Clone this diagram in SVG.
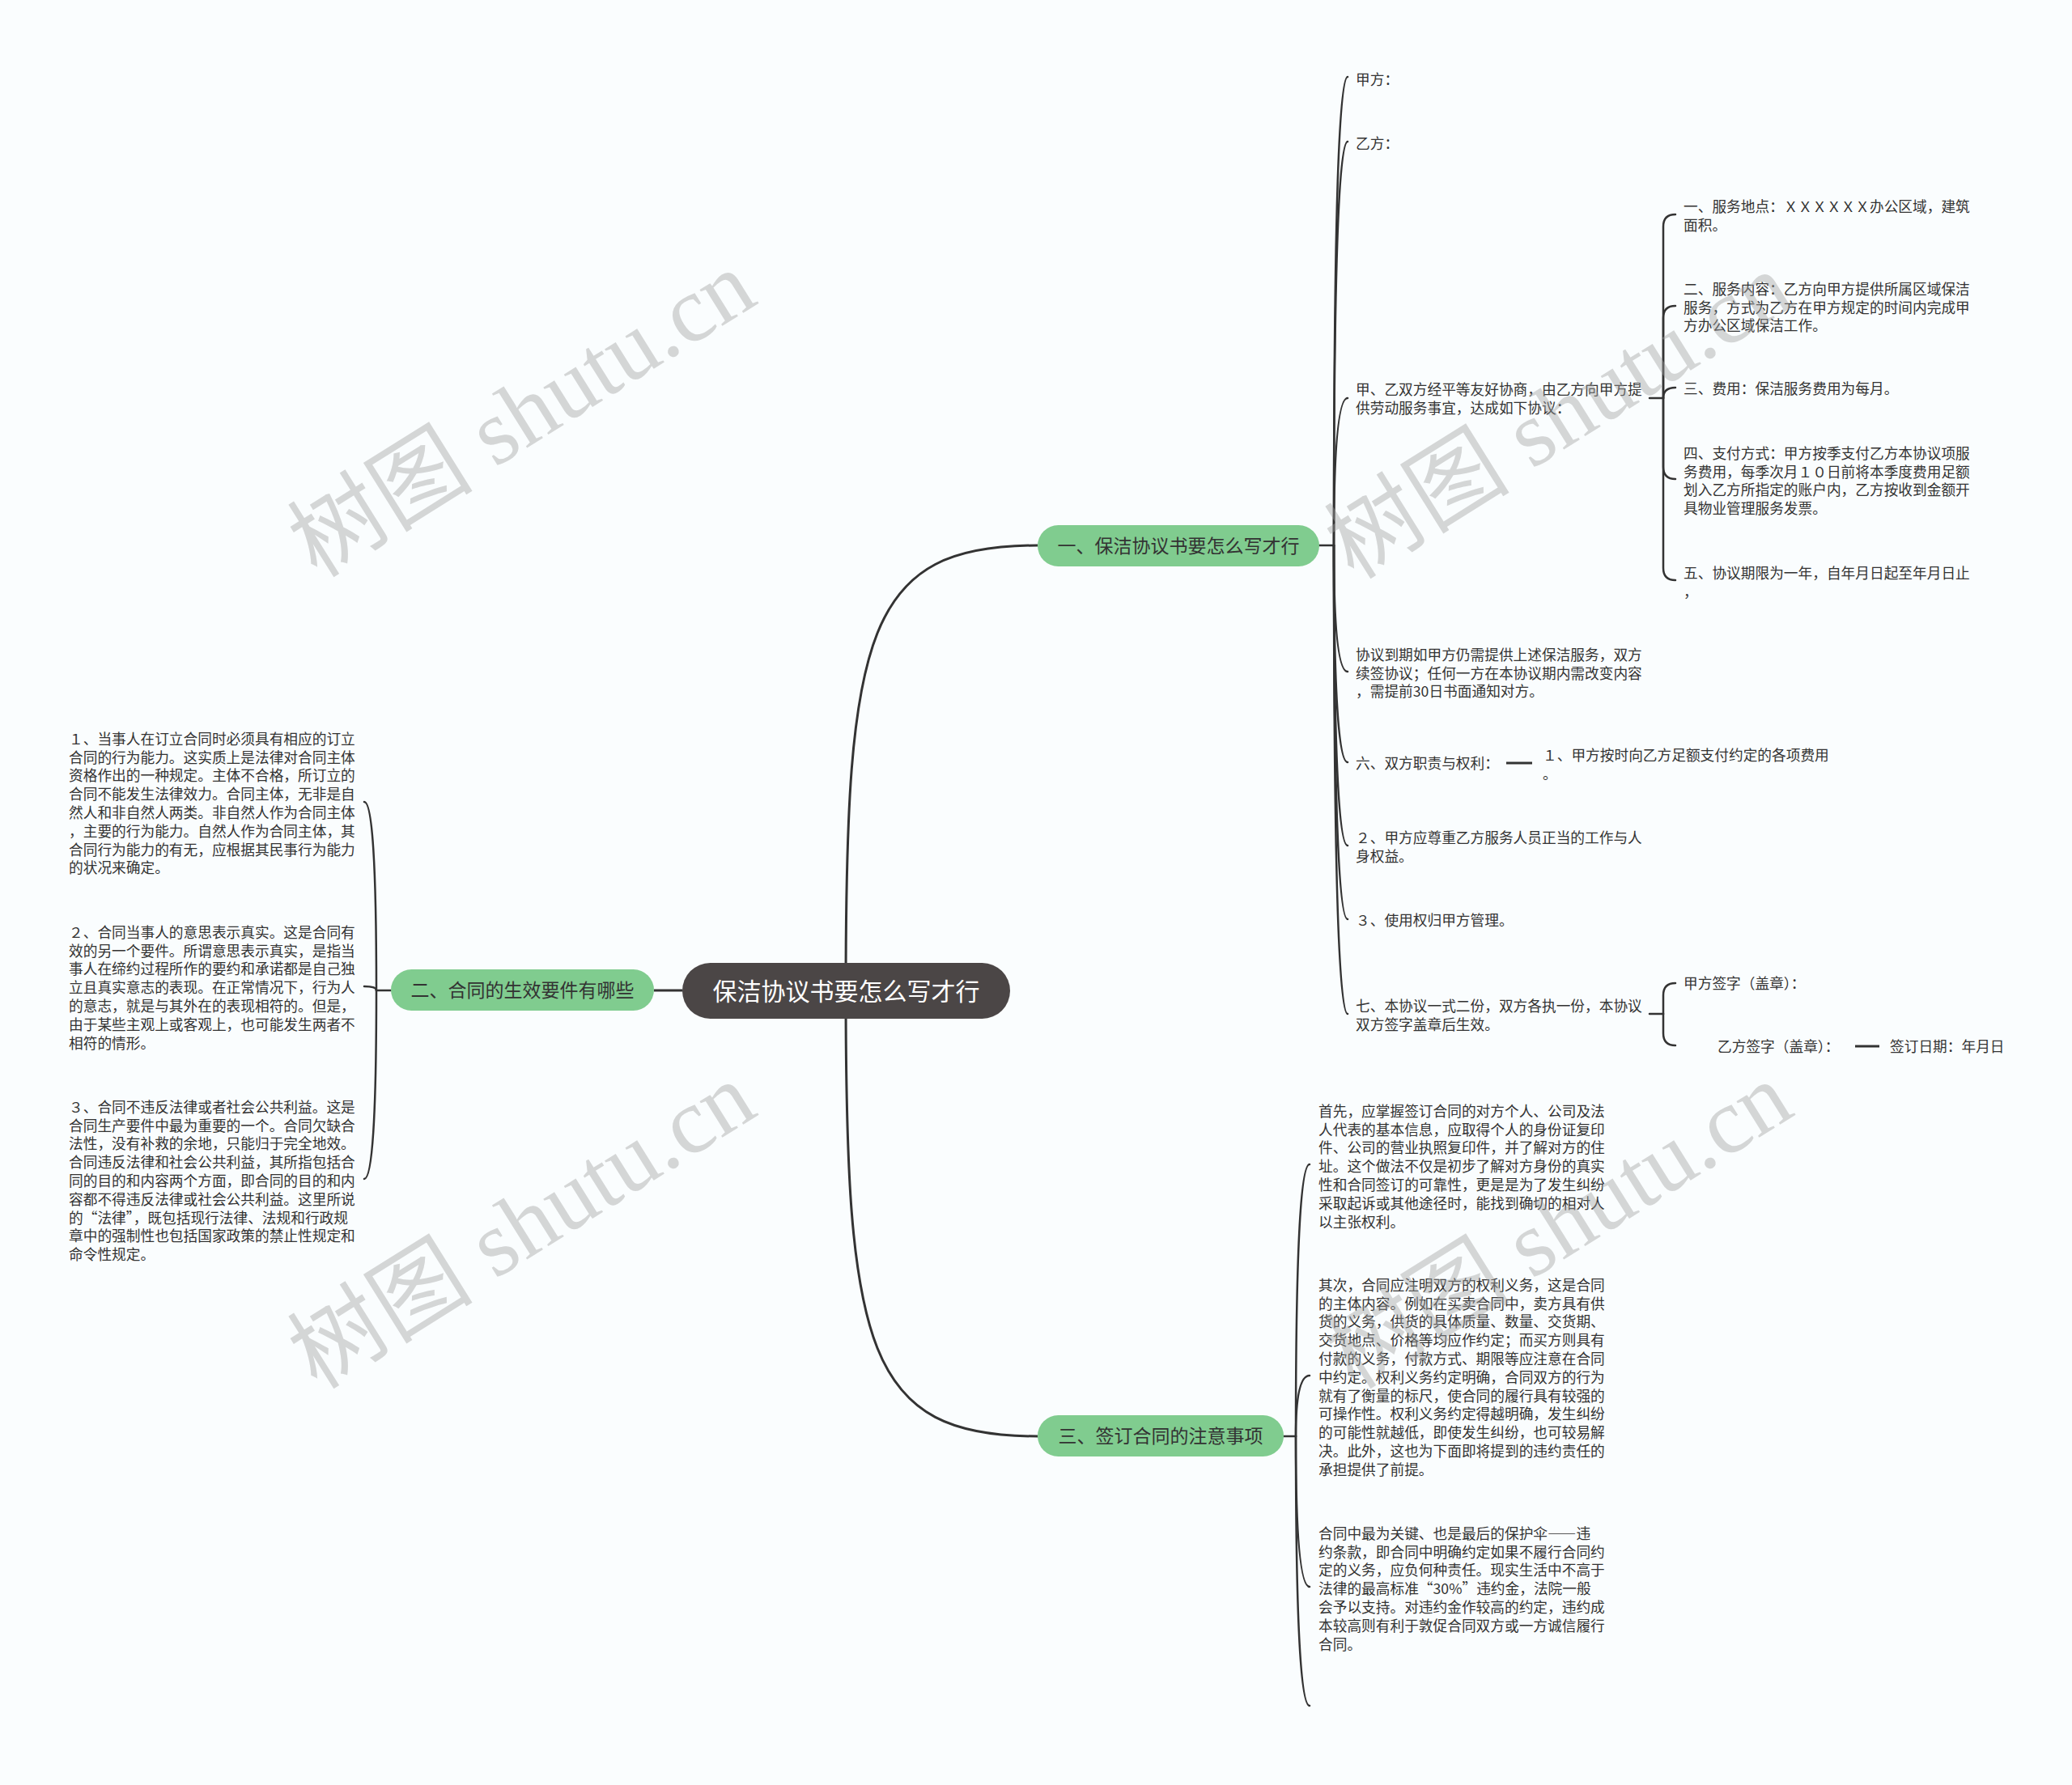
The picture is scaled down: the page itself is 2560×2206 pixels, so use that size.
<svg xmlns="http://www.w3.org/2000/svg" width="2560" height="2206" viewBox="0 0 2560 2206">
<style>
text{font-family:"Noto Sans CJK SC","Noto Sans",sans-serif;}
.t{font-size:17.7px;fill:#333;}
.b{font-size:23px;fill:#333;text-anchor:middle;}
.c{font-size:30px;fill:#fff;text-anchor:middle;}
.q{font-feature-settings:"fwid";}
.ln{fill:none;stroke:#333;stroke-width:2.5;stroke-linecap:round;}
.mn{fill:none;stroke:#333;stroke-width:3;}
.pill{fill:#80cc8f;}
.wm{font-family:"Liberation Serif","Noto Sans CJK SC",serif;font-size:115px;fill:#a0a0a0;fill-opacity:0.42;text-anchor:middle;}
</style>
<rect width="2560" height="2206" fill="#fafdfe"/>
<g id="connectors">
<path class="mn" d="M1045,1224 C1045,780 1070,674 1282,674"/>
<path class="mn" d="M1045,1224 C1045,1668 1070,1775 1282,1775"/>
<path class="mn" d="M808,1224 L843,1224"/>
<path class="ln" d="M1630,674 L1648,674"/>
<path class="ln" d="M1648,674 Q1648,95 1665,95"/>
<path class="ln" d="M1648,674 Q1648,175 1665,175"/>
<path class="ln" d="M1648,674 Q1648,492 1665,492"/>
<path class="ln" d="M1648,674 Q1648,830 1665,830"/>
<path class="ln" d="M1648,674 Q1648,942 1665,942"/>
<path class="ln" d="M1648,674 Q1648,1045 1665,1045"/>
<path class="ln" d="M1648,674 Q1648,1136 1665,1136"/>
<path class="ln" d="M1648,674 Q1648,1253 1665,1253"/>
<path class="ln" d="M2038,492 L2055,492"/>
<path class="ln" d="M2055,492 L2055,280 Q2055,265 2070,265"/>
<path class="ln" d="M2055,492 L2055,393 Q2055,378 2070,378"/>
<path class="ln" d="M2055,492 Q2055,479 2070,479"/>
<path class="ln" d="M2055,492 L2055,577 Q2055,592 2070,592"/>
<path class="ln" d="M2055,492 L2055,702 Q2055,717 2070,717"/>
<path class="mn" d="M1861,943 L1893,943"/>
<path class="ln" d="M2038,1253 L2055,1253"/>
<path class="ln" d="M2055,1253 L2055,1230 Q2055,1215 2070,1215"/>
<path class="ln" d="M2055,1253 L2055,1277 Q2055,1292 2070,1292"/>
<path class="mn" d="M2292,1293 L2322,1293"/>
<path class="ln" d="M483,1224 L465,1224"/>
<path class="ln" d="M465,1224 Q465,991 450,991"/>
<path class="ln" d="M465,1224 Q465,1219 450,1219"/>
<path class="ln" d="M465,1224 Q465,1457 450,1457"/>
<path class="ln" d="M1586,1775 L1601,1775"/>
<path class="ln" d="M1601,1775 Q1601,1439 1618,1439"/>
<path class="ln" d="M1601,1775 Q1601,1700 1618,1700"/>
<path class="ln" d="M1601,1775 Q1601,1961 1618,1961"/>
<path class="ln" d="M1601,1775 Q1601,2108 1618,2108"/>
</g>
<g id="root">
<rect x="843" y="1190" width="405" height="69" rx="34.5" fill="#4b4646"/>
<text class="c" x="1045.5" y="1235.9">保洁协议书要怎么写才行</text>
</g>
<g id="branch1">
<rect class="pill" x="1282" y="649" width="348" height="51" rx="25.5"/>
<text class="b" x="1456" y="683.2">一、保洁协议书要怎么写才行</text>
</g>
<g id="branch2">
<rect class="pill" x="483" y="1198" width="325" height="51" rx="25.5"/>
<text class="b" x="645.5" y="1232.2">二、合同的生效要件有哪些</text>
</g>
<g id="branch3">
<rect class="pill" x="1282" y="1749" width="304" height="51" rx="25.5"/>
<text class="b" x="1434" y="1783.2">三、签订合同的注意事项</text>
</g>
<g id="n-jiafang"><text class="t" x="1675" y="104.7">甲方：</text></g>
<g id="n-yifang"><text class="t" x="1675" y="183.7">乙方：</text></g>
<g id="n-xieshang"><text class="t" y="488.2"><tspan x="1675">甲、乙双方经平等友好协商，由乙方向甲方提</tspan><tspan x="1675" dy="22.8">供劳动服务事宜，达成如下协议：</tspan></text></g>
<g id="n-s1"><text class="t" y="261.7"><tspan x="2080">一、服务地点：ＸＸＸＸＸＸ办公区域，建筑</tspan><tspan x="2080" dy="22.8">面积。</tspan></text></g>
<g id="n-s2"><text class="t" y="363.7"><tspan x="2080">二、服务内容：乙方向甲方提供所属区域保洁</tspan><tspan x="2080" dy="22.8">服务，方式为乙方在甲方规定的时间内完成甲</tspan><tspan x="2080" dy="22.8">方办公区域保洁工作。</tspan></text></g>
<g id="n-s3"><text class="t" x="2080" y="486.7">三、费用：保洁服务费用为每月。</text></g>
<g id="n-s4"><text class="t" y="566.7"><tspan x="2080">四、支付方式：甲方按季支付乙方本协议项服</tspan><tspan x="2080" dy="22.8">务费用，每季次月１０日前将本季度费用足额</tspan><tspan x="2080" dy="22.8">划入乙方所指定的账户内，乙方按收到金额开</tspan><tspan x="2080" dy="22.8">具物业管理服务发票。</tspan></text></g>
<g id="n-s5"><text class="t" y="714.7"><tspan x="2080">五、协议期限为一年，自年月日起至年月日止</tspan><tspan x="2080" dy="22.8">，</tspan></text></g>
<g id="n-daoqi"><text class="t" y="815.7"><tspan x="1675">协议到期如甲方仍需提供上述保洁服务，双方</tspan><tspan x="1675" dy="22.8">续签协议；任何一方在本协议期内需改变内容</tspan><tspan x="1675" dy="22.8">，需提前30日书面通知对方。</tspan></text></g>
<g id="n-liu"><text class="t" x="1675" y="949.7">六、双方职责与权利：</text></g>
<g id="n-liu1"><text class="t" y="939.7"><tspan x="1906">１、甲方按时向乙方足额支付约定的各项费用</tspan><tspan x="1906" dy="22.8">。</tspan></text></g>
<g id="n-er"><text class="t" y="1041.7"><tspan x="1675">２、甲方应尊重乙方服务人员正当的工作与人</tspan><tspan x="1675" dy="22.8">身权益。</tspan></text></g>
<g id="n-san"><text class="t" x="1675" y="1143.7">３、使用权归甲方管理。</text></g>
<g id="n-qi"><text class="t" y="1249.7"><tspan x="1675">七、本协议一式二份，双方各执一份，本协议</tspan><tspan x="1675" dy="22.8">双方签字盖章后生效。</tspan></text></g>
<g id="n-jqz"><text class="t" x="2080" y="1221.7">甲方签字（盖章）：</text></g>
<g id="n-yqz"><text class="t" x="2122" y="1299.7">乙方签字（盖章）：</text></g>
<g id="n-date"><text class="t" x="2335" y="1299.7">签订日期：年月日</text></g>
<g id="n-l1"><text class="t" y="919.7"><tspan x="85">１、当事人在订立合同时必须具有相应的订立</tspan><tspan x="85" dy="22.8">合同的行为能力。这实质上是法律对合同主体</tspan><tspan x="85" dy="22.8">资格作出的一种规定。主体不合格，所订立的</tspan><tspan x="85" dy="22.8">合同不能发生法律效力。合同主体，无非是自</tspan><tspan x="85" dy="22.8">然人和非自然人两类。非自然人作为合同主体</tspan><tspan x="85" dy="22.8">，主要的行为能力。自然人作为合同主体，其</tspan><tspan x="85" dy="22.8">合同行为能力的有无，应根据其民事行为能力</tspan><tspan x="85" dy="22.8">的状况来确定。</tspan></text></g>
<g id="n-l2"><text class="t" y="1158.7"><tspan x="85">２、合同当事人的意思表示真实。这是合同有</tspan><tspan x="85" dy="22.8">效的另一个要件。所谓意思表示真实，是指当</tspan><tspan x="85" dy="22.8">事人在缔约过程所作的要约和承诺都是自己独</tspan><tspan x="85" dy="22.8">立且真实意志的表现。在正常情况下，行为人</tspan><tspan x="85" dy="22.8">的意志，就是与其外在的表现相符的。但是，</tspan><tspan x="85" dy="22.8">由于某些主观上或客观上，也可能发生两者不</tspan><tspan x="85" dy="22.8">相符的情形。</tspan></text></g>
<g id="n-l3"><text class="t" y="1374.7"><tspan x="85">３、合同不违反法律或者社会公共利益。这是</tspan><tspan x="85" dy="22.8">合同生产要件中最为重要的一个。合同欠缺合</tspan><tspan x="85" dy="22.8">法性，没有补救的余地，只能归于完全地效。</tspan><tspan x="85" dy="22.8">合同违反法律和社会公共利益，其所指包括合</tspan><tspan x="85" dy="22.8">同的目的和内容两个方面，即合同的目的和内</tspan><tspan x="85" dy="22.8">容都不得违反法律或社会公共利益。这里所说</tspan><tspan x="85" dy="22.8">的<tspan class="q">“</tspan>法律<tspan class="q">”</tspan>，既包括现行法律、法规和行政规</tspan><tspan x="85" dy="22.8">章中的强制性也包括国家政策的禁止性规定和</tspan><tspan x="85" dy="22.8">命令性规定。</tspan></text></g>
<g id="n-r1"><text class="t" y="1379.7"><tspan x="1629">首先，应掌握签订合同的对方个人、公司及法</tspan><tspan x="1629" dy="22.8">人代表的基本信息，应取得个人的身份证复印</tspan><tspan x="1629" dy="22.8">件、公司的营业执照复印件，并了解对方的住</tspan><tspan x="1629" dy="22.8">址。这个做法不仅是初步了解对方身份的真实</tspan><tspan x="1629" dy="22.8">性和合同签订的可靠性，更是是为了发生纠纷</tspan><tspan x="1629" dy="22.8">采取起诉或其他途径时，能找到确切的相对人</tspan><tspan x="1629" dy="22.8">以主张权利。</tspan></text></g>
<g id="n-r2"><text class="t" y="1594.7"><tspan x="1629">其次，合同应注明双方的权利义务，这是合同</tspan><tspan x="1629" dy="22.8">的主体内容。例如在买卖合同中，卖方具有供</tspan><tspan x="1629" dy="22.8">货的义务，供货的具体质量、数量、交货期、</tspan><tspan x="1629" dy="22.8">交货地点、价格等均应作约定；而买方则具有</tspan><tspan x="1629" dy="22.8">付款的义务，付款方式、期限等应注意在合同</tspan><tspan x="1629" dy="22.8">中约定。权利义务约定明确，合同双方的行为</tspan><tspan x="1629" dy="22.8">就有了衡量的标尺，使合同的履行具有较强的</tspan><tspan x="1629" dy="22.8">可操作性。权利义务约定得越明确，发生纠纷</tspan><tspan x="1629" dy="22.8">的可能性就越低，即使发生纠纷，也可较易解</tspan><tspan x="1629" dy="22.8">决。此外，这也为下面即将提到的违约责任的</tspan><tspan x="1629" dy="22.8">承担提供了前提。</tspan></text></g>
<g id="n-r3"><text class="t" y="1901.7"><tspan x="1629">合同中最为关键、也是最后的保护伞<tspan class="q">——</tspan>违</tspan><tspan x="1629" dy="22.8">约条款，即合同中明确约定如果不履行合同约</tspan><tspan x="1629" dy="22.8">定的义务，应负何种责任。现实生活中不高于</tspan><tspan x="1629" dy="22.8">法律的最高标准<tspan class="q">“</tspan>30%<tspan class="q">”</tspan>违约金，法院一般</tspan><tspan x="1629" dy="22.8">会予以支持。对违约金作较高的约定，违约成</tspan><tspan x="1629" dy="22.8">本较高则有利于敦促合同双方或一方诚信履行</tspan><tspan x="1629" dy="22.8">合同。</tspan></text></g>
<g id="watermarks">
<text class="wm" x="645" y="512" dominant-baseline="central" transform="rotate(-32 645 512)">树图 shutu.cn</text>
<text class="wm" x="1926" y="514" dominant-baseline="central" transform="rotate(-32 1926 514)">树图 shutu.cn</text>
<text class="wm" x="645" y="1515" dominant-baseline="central" transform="rotate(-32 645 1515)">树图 shutu.cn</text>
<text class="wm" x="1926" y="1515" dominant-baseline="central" transform="rotate(-32 1926 1515)">树图 shutu.cn</text>
</g>
</svg>
